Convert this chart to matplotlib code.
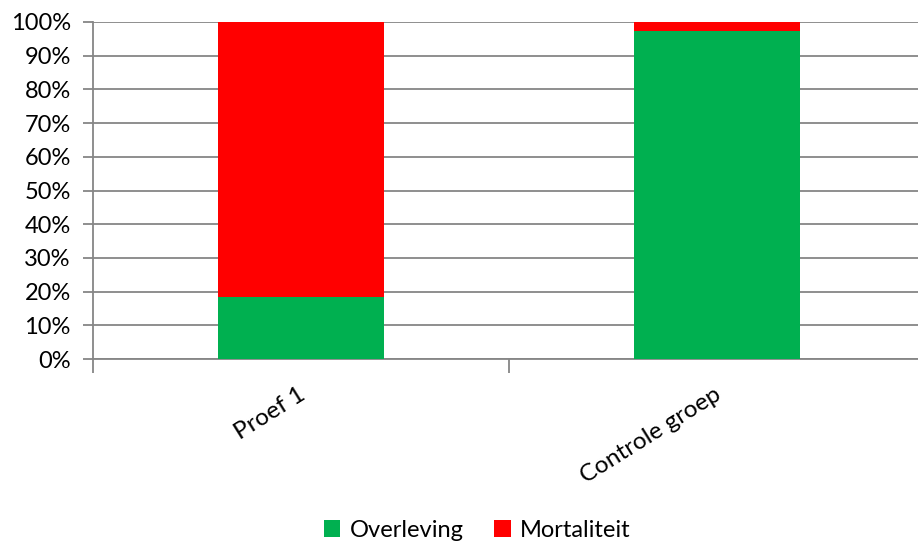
import numpy as np
import matplotlib
matplotlib.use("Agg")
import matplotlib.pyplot as plt
import matplotlib.transforms as mtransforms

plt.rcParams["font.family"] = ["Lato", "DejaVu Sans"]

groups = ["Proef 1", "Controle groep"]
overleving = [18.5, 97.3]
mortaliteit = [81.5, 2.7]
series_names = ["Overleving", "Mortaliteit"]
colors = ["#00B050", "#FF0000"]
yticks = [0, 10, 20, 30, 40, 50, 60, 70, 80, 90, 100]

fig = plt.figure(figsize=(9.18, 5.43), dpi=100)
# axes box in pixels: left 93, right ~925, bottom 359, top 22
ax = fig.add_axes([93 / 918, (543 - 359) / 543, (925 - 93) / 918, (359 - 22) / 543])

x = np.arange(len(groups))
ax.bar(x, overleving, width=0.4, color=colors[0], label=series_names[0], zorder=3)
ax.bar(x, mortaliteit, width=0.4, bottom=overleving, color=colors[1],
       label=series_names[1], zorder=3)

ax.set_xlim(-0.5, 1.5)
ax.set_ylim(0, 100)
ax.set_yticks(yticks)
ax.set_yticklabels([f"{v}%" for v in yticks], fontsize=17, color="#000000")
ax.yaxis.grid(True, color="#868686", linewidth=1.3, zorder=0)
ax.tick_params(axis="y", length=7, width=1.3, color="#868686", pad=9)

# category boundary ticks on the x axis
ax.set_xticks([-0.5, 0.5, 1.5])
ax.set_xticklabels([])
ax.tick_params(axis="x", length=10, width=1.3, color="#868686")
offset = mtransforms.offset_copy(ax.transData, fig=fig, x=2, y=-34, units="dots")
for xi, name in zip(x, groups):
    ax.text(xi, 0, name, transform=offset, rotation=32, ha="right", va="center",
            rotation_mode="anchor", fontsize=17.5)

for side in ["top", "right"]:
    ax.spines[side].set_visible(False)
for side in ["left", "bottom"]:
    ax.spines[side].set_color("#868686")
    ax.spines[side].set_linewidth(1.3)

fig.legend(loc="lower center", bbox_to_anchor=(0.52, -0.035), ncol=2, frameon=False,
           fontsize=17, handlelength=0.7, handleheight=0.7, handletextpad=0.4,
           columnspacing=1.3)

fig.savefig("out.png", dpi=100)
